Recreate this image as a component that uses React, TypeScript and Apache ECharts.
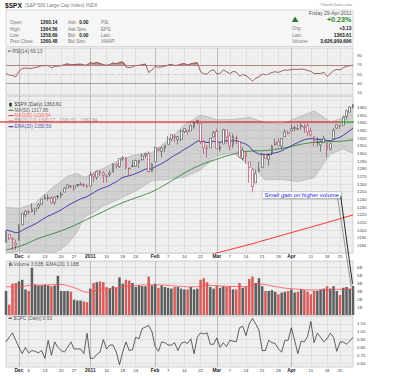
import React, { useEffect, useRef } from 'react';
import * as echarts from 'echarts';

const FONT = '"Liberation Sans", Arial, Helvetica, sans-serif';

const dates: string[] = [
  '2010-11-24','2010-11-26','2010-11-29','2010-11-30',
  '2010-12-01','2010-12-02','2010-12-03','2010-12-06','2010-12-07','2010-12-08','2010-12-09','2010-12-10',
  '2010-12-13','2010-12-14','2010-12-15','2010-12-16','2010-12-17','2010-12-20','2010-12-21','2010-12-22','2010-12-23',
  '2010-12-27','2010-12-28','2010-12-29','2010-12-30','2010-12-31',
  '2011-01-03','2011-01-04','2011-01-05','2011-01-06','2011-01-07','2011-01-10','2011-01-11','2011-01-12','2011-01-13','2011-01-14',
  '2011-01-18','2011-01-19','2011-01-20','2011-01-21','2011-01-24','2011-01-25','2011-01-26','2011-01-27','2011-01-28','2011-01-31',
  '2011-02-01','2011-02-02','2011-02-03','2011-02-04','2011-02-07','2011-02-08','2011-02-09','2011-02-10','2011-02-11',
  '2011-02-14','2011-02-15','2011-02-16','2011-02-17','2011-02-18','2011-02-22','2011-02-23','2011-02-24','2011-02-25','2011-02-28',
  '2011-03-01','2011-03-02','2011-03-03','2011-03-04','2011-03-07','2011-03-08','2011-03-09','2011-03-10','2011-03-11',
  '2011-03-14','2011-03-15','2011-03-16','2011-03-17','2011-03-18','2011-03-21','2011-03-22','2011-03-23','2011-03-24','2011-03-25',
  '2011-03-28','2011-03-29','2011-03-30','2011-03-31',
  '2011-04-01','2011-04-04','2011-04-05','2011-04-06','2011-04-07','2011-04-08','2011-04-11','2011-04-12','2011-04-13','2011-04-14','2011-04-15',
  '2011-04-18','2011-04-19','2011-04-20','2011-04-21','2011-04-25','2011-04-26','2011-04-27','2011-04-28','2011-04-29',
];

const tickIdx = [4, 7, 12, 17, 21, 26, 31, 36, 40, 46, 50, 55, 60, 65, 69, 74, 79, 84, 88, 94, 99, 103];
const tickText = ['Dec', '6', '13', '20', '27', '2011', '10', '18', '24', 'Feb', '7', '14', '22', 'Mar', '7', '14', '21', '28', 'Apr', '11', '18', '25'];
const monthIdx = [4, 26, 46, 65, 88];

const opens = [
  1183.7, 1194.2, 1189.1, 1182.9, 1186.6, 1206.8, 1219.9, 1223.9, 1227.3, 1225.0,
  1230.1, 1233.8, 1242.5, 1241.8, 1241.6, 1236.3, 1243.6, 1245.8, 1249.4, 1254.9,
  1257.5, 1254.7, 1259.1, 1258.8, 1259.4, 1256.8, 1257.6, 1272.9, 1268.8, 1276.3,
  1274.4, 1270.8, 1272.6, 1275.7, 1285.8, 1282.9, 1293.2, 1294.5, 1280.9, 1283.6,
  1283.3, 1288.2, 1291.9, 1297.5, 1299.6, 1276.5, 1289.1, 1305.9, 1302.8, 1307.0,
  1311.9, 1318.8, 1322.5, 1318.1, 1318.7, 1328.7, 1330.4, 1329.5, 1334.4, 1340.4,
  1338.9, 1315.4, 1307.1, 1307.3, 1321.6, 1328.6, 1305.5, 1312.4, 1330.7, 1322.7,
  1311.1, 1319.9, 1315.7, 1293.4, 1301.2, 1288.5, 1279.5, 1261.6, 1276.7, 1281.7,
  1298.3, 1292.2, 1300.6, 1311.8, 1315.5, 1309.4, 1321.9, 1327.4, 1329.5, 1333.6,
  1332.0, 1335.9, 1334.8, 1336.2, 1329.0, 1321.9, 1314.0, 1311.1, 1314.5, 1313.4,
  1305.9, 1319.1, 1333.2, 1337.1, 1336.8, 1348.4, 1353.9, 1360.14,
];
const highs = [
  1198.6, 1194.2, 1189.1, 1187.4, 1207.6, 1221.9, 1225.6, 1225.8, 1235.1, 1228.9,
  1234.7, 1240.4, 1246.7, 1246.6, 1244.3, 1243.8, 1245.8, 1250.2, 1255.8, 1259.4,
  1258.6, 1258.4, 1259.9, 1262.6, 1261.1, 1259.3, 1276.2, 1274.1, 1277.6, 1278.2,
  1276.8, 1271.5, 1277.6, 1286.9, 1286.7, 1293.2, 1296.1, 1294.6, 1281.0, 1291.2,
  1291.9, 1291.3, 1299.7, 1301.3, 1302.7, 1287.2, 1308.9, 1307.6, 1308.6, 1311.0,
  1322.9, 1324.9, 1324.5, 1322.8, 1330.8, 1332.9, 1330.4, 1337.6, 1341.5, 1344.1,
  1338.9, 1317.9, 1310.9, 1320.6, 1329.4, 1332.1, 1314.2, 1332.3, 1331.1, 1327.7,
  1325.7, 1323.2, 1315.7, 1308.4, 1301.2, 1288.5, 1280.9, 1278.9, 1288.9, 1300.6,
  1299.4, 1300.5, 1311.3, 1319.2, 1319.7, 1319.4, 1331.7, 1329.8, 1337.9, 1336.7,
  1338.2, 1339.4, 1338.8, 1339.5, 1333.2, 1321.9, 1321.4, 1316.8, 1322.9, 1313.5,
  1312.7, 1332.7, 1337.5, 1337.6, 1349.6, 1357.5, 1361.7, 1364.56,
];
const lows = [
  1183.7, 1186.9, 1173.6, 1174.1, 1186.6, 1206.8, 1216.8, 1220.7, 1223.3, 1219.5,
  1226.9, 1232.6, 1240.3, 1238.2, 1234.0, 1232.9, 1239.9, 1241.5, 1249.4, 1254.9,
  1254.0, 1251.5, 1256.2, 1258.8, 1256.3, 1254.2, 1257.6, 1262.7, 1265.4, 1270.4,
  1261.7, 1262.2, 1269.6, 1275.7, 1280.5, 1281.1, 1290.2, 1278.9, 1271.3, 1282.1,
  1282.5, 1281.1, 1291.0, 1294.4, 1275.1, 1276.0, 1289.1, 1302.6, 1294.8, 1301.7,
  1311.9, 1316.0, 1314.9, 1311.7, 1316.1, 1326.9, 1324.6, 1329.5, 1331.9, 1338.1,
  1312.3, 1299.6, 1294.3, 1307.3, 1320.9, 1306.1, 1302.6, 1312.4, 1312.6, 1303.9,
  1306.9, 1312.3, 1294.3, 1291.0, 1286.4, 1261.9, 1249.1, 1261.6, 1276.2, 1281.7,
  1292.7, 1284.1, 1297.7, 1310.4, 1310.2, 1305.3, 1321.9, 1325.0, 1328.9, 1329.1,
  1330.0, 1330.7, 1326.6, 1322.9, 1321.8, 1309.2, 1309.2, 1302.4, 1313.7, 1294.7,
  1303.9, 1319.1, 1332.0, 1331.7, 1336.7, 1344.2, 1353.6, 1358.69,
];
const closes = [
  1198.35, 1189.40, 1187.76, 1180.55, 1206.07, 1221.53, 1224.71, 1223.12, 1223.75, 1228.28,
  1233.00, 1240.40, 1240.46, 1241.59, 1235.23, 1242.87, 1243.91, 1247.08, 1254.60, 1258.84,
  1256.77, 1257.54, 1258.51, 1259.78, 1257.88, 1257.64, 1271.87, 1270.20, 1276.56, 1273.85,
  1271.50, 1269.75, 1274.48, 1285.96, 1283.76, 1293.24, 1295.02, 1281.92, 1280.26, 1283.35,
  1290.84, 1291.18, 1296.63, 1299.54, 1276.34, 1286.12, 1307.59, 1304.03, 1307.10, 1310.87,
  1319.05, 1324.57, 1320.88, 1321.87, 1329.15, 1332.32, 1328.01, 1336.32, 1340.43, 1343.01,
  1315.44, 1307.40, 1306.10, 1319.88, 1327.22, 1306.33, 1308.44, 1330.97, 1321.15, 1310.13,
  1321.82, 1320.02, 1295.11, 1304.28, 1296.39, 1281.87, 1256.88, 1273.72, 1279.21, 1298.38,
  1293.77, 1297.54, 1309.66, 1313.80, 1310.19, 1319.44, 1328.26, 1325.83, 1332.41, 1332.87,
  1332.63, 1335.54, 1333.51, 1328.17, 1324.46, 1314.16, 1314.41, 1314.52, 1319.68, 1305.14,
  1312.62, 1330.36, 1337.38, 1335.25, 1347.24, 1355.66, 1360.48, 1363.61,
];
const prevCloseStart = 1180.73;

const ema20 = [
  1200.0, 1199.0, 1197.9, 1196.3, 1197.2, 1199.5, 1201.9, 1203.9, 1205.8, 1207.9,
  1210.3, 1213.2, 1215.8, 1218.3, 1219.9, 1222.1, 1224.1, 1226.3, 1229.0, 1231.8,
  1234.2, 1236.4, 1238.5, 1240.6, 1242.2, 1243.7, 1246.4, 1248.6, 1251.3, 1253.4,
  1255.2, 1256.5, 1258.2, 1260.9, 1263.0, 1265.9, 1268.7, 1269.9, 1270.9, 1272.1,
  1273.9, 1275.5, 1277.5, 1279.6, 1279.3, 1280.0, 1282.6, 1284.6, 1286.8, 1289.1,
  1291.9, 1295.0, 1297.5, 1299.8, 1302.6, 1305.4, 1307.6, 1310.3, 1313.2, 1316.0,
  1316.0, 1315.2, 1314.3, 1314.8, 1316.0, 1315.1, 1314.5, 1316.0, 1316.5, 1315.9,
  1316.5, 1316.8, 1314.7, 1313.7, 1312.1, 1309.2, 1304.2, 1301.3, 1299.2, 1299.1,
  1298.6, 1298.5, 1299.6, 1300.9, 1301.8, 1303.5, 1305.8, 1307.7, 1310.1, 1312.3,
  1314.2, 1316.2, 1317.9, 1318.9, 1319.4, 1318.9, 1318.5, 1318.1, 1318.3, 1317.0,
  1316.6, 1317.9, 1319.8, 1321.2, 1323.7, 1326.7, 1329.9, 1333.1,
];

const ma50Idx = [0, 5, 10, 15, 20, 25, 30, 35, 40, 45, 49, 55, 60, 64, 70, 75, 80, 85, 87, 92, 97, 102, 107];
const ma50Val = [1174, 1180, 1189, 1196, 1204, 1214, 1224, 1234, 1242, 1250, 1259.0, 1274.3, 1284.9, 1291.0, 1298.9, 1303.0, 1303.8, 1306.6, 1308.2, 1312.7, 1315.1, 1315.6, 1317.86];

const ma200Idx = [55, 60, 65, 70, 75, 80, 85, 90, 95, 100, 104, 107];
const ma200Val = [1158, 1164, 1170, 1175.5, 1181, 1187, 1193, 1199, 1205, 1211, 1216, 1219.54];

const bbIdx = [0, 4, 9, 14, 17, 19, 22, 24, 25, 27, 30, 35, 40, 45, 50, 55, 60, 65, 70, 75, 80, 85, 90, 95, 100, 104, 107];
const bbUpper = [1229.3, 1228.0, 1235.1, 1254.4, 1263.7, 1270.4, 1274.0, 1269.0, 1269.7, 1275.3, 1280.4, 1291.6, 1298.4, 1301.0, 1317.6, 1337.0, 1350.4, 1344.1, 1344.4, 1347.0, 1340.3, 1338.3, 1346.9, 1355.7, 1341.2, 1346.6, 1362.8];
const bbLower = [1169.3, 1172.5, 1169.3, 1168.4, 1174.9, 1181.8, 1197.9, 1216.0, 1218.9, 1222.7, 1231.4, 1240.8, 1251.0, 1264.2, 1266.2, 1268.8, 1278.6, 1296.7, 1300.8, 1285.0, 1265.7, 1265.9, 1263.3, 1268.3, 1299.2, 1305.8, 1300.2];

const rsi = [
  51, 48, 47, 44, 56, 62, 63, 62, 62.5, 64,
  65.5, 68, 68, 68.5, 63.5, 66.5, 67, 68, 70.5, 72,
  70, 70.5, 71, 71.5, 69.5, 69.3, 74.5, 73, 75, 72.5,
  70.5, 69, 70.5, 74, 72, 75.5, 76, 65, 64, 65.5,
  68.5, 68.6, 70.5, 71.5, 53.5, 58.5, 66.5, 64.5, 65.5, 67,
  69.5, 71, 68.5, 69, 71.5, 72.5, 69.5, 72, 73.5, 74.5,
  55, 50.5, 50, 56.5, 59.5, 50, 51, 59, 55, 51,
  55.5, 54.5, 45.5, 49, 46.5, 41.5, 34.5, 41.5, 43.5, 50,
  48.5, 49.8, 53.5, 55, 53.5, 56.5, 59, 58, 60, 60.2,
  60, 61, 60, 57.5, 56, 51, 51.2, 51.3, 53.5, 45,
  50.5, 57.5, 60, 59, 63.5, 66.5, 68, 69.13,
];
const rsiOverbought = 70;

const volume = [
  3.0, 1.3, 3.9, 4.0, 4.2, 4.4, 3.2, 3.0, 5.9, 3.8,
  3.7, 3.7, 3.8, 3.7, 3.6, 3.7, 4.9, 3.0, 3.0, 3.0,
  2.9, 1.9, 1.8, 1.8, 1.7, 1.6, 3.3, 4.0, 4.1, 4.2,
  4.1, 3.5, 3.3, 3.6, 3.4, 4.7, 3.9, 4.4, 4.3, 4.0,
  3.5, 3.7, 3.6, 3.6, 4.8, 3.7, 3.9, 3.4, 3.7, 3.5,
  3.4, 3.3, 3.5, 3.5, 3.3, 3.2, 3.2, 3.5, 3.2, 3.3,
  4.4, 4.6, 4.1, 3.5, 3.3, 3.7, 3.4, 3.6, 3.5, 3.6,
  3.2, 3.2, 4.0, 3.4, 3.5, 4.5, 4.8, 4.0, 4.6, 3.6,
  3.0, 3.0, 3.1, 2.9, 2.6, 2.8, 2.9, 3.0, 3.2, 2.8,
  2.9, 3.2, 3.1, 2.9, 2.6, 3.0, 3.0, 3.2, 3.3, 3.6,
  3.3, 3.6, 3.0, 2.5, 3.4, 3.5, 3.3, 3.63,
];
const volEmaIdx = [0, 4, 8, 12, 16, 20, 23, 25, 28, 32, 36, 40, 44, 48, 52, 56, 60, 62, 66, 70, 74, 78, 82, 86, 90, 94, 98, 102, 107];
const volEmaVal = [3.54, 3.51, 3.73, 3.74, 3.83, 3.55, 3.10, 2.84, 3.09, 3.30, 3.51, 3.67, 3.77, 3.74, 3.64, 3.52, 3.56, 3.70, 3.63, 3.57, 3.56, 3.86, 3.63, 3.36, 3.23, 3.13, 3.13, 3.21, 3.18];

const cpc = [
  0.87, 0.93, 0.985, 0.89, 0.80, 0.72, 0.80, 0.73, 0.76, 0.75,
  0.73, 0.76, 0.66, 0.89, 0.70, 0.87, 0.80, 0.76, 0.74, 0.80,
  0.87, 0.78, 0.78, 0.78, 0.72, 0.98, 0.66, 0.66, 0.71, 0.74,
  0.90, 0.78, 0.83, 0.83, 0.74, 0.58, 0.74, 0.87, 0.76, 0.77,
  0.93, 0.91, 1.04, 1.06, 1.08, 1.00, 0.81, 0.75, 0.87, 0.86,
  0.83, 0.83, 0.86, 0.76, 0.85, 0.87, 0.85, 0.91, 0.72, 0.93,
  0.985, 0.97, 0.985, 0.84, 0.84, 0.92, 0.80, 0.86, 0.81, 0.89,
  0.88, 0.87, 1.05, 1.07, 0.95, 1.10, 1.17, 1.10, 1.02, 0.76,
  0.76, 0.89, 0.86, 0.85, 0.78, 0.74, 0.89, 0.89, 1.05, 0.89,
  0.72, 0.88, 0.87, 0.94, 1.13, 0.86, 0.98, 0.93, 0.87, 0.91,
  0.98, 0.93, 0.75, 0.87, 0.87, 0.84, 0.88, 0.93,
];

const resistanceLevel = 1341;
const resistanceSplitIdx = 103;
const annoIdx = 79.2;
const annoPrice = 1250;

const GRID_BG = '#efefef';
const GRID_LINE = '#d5d5d5';
const MONTH_LINE = '#a9a9a9';
const CANDLE_RED = '#a8193a';
const CANDLE_BLACK = '#262626';

const sparse = (idx: number[], vals: number[]) => {
  const a: (number | null)[] = dates.map(() => null);
  idx.forEach((i, k) => { a[i] = vals[k]; });
  return a;
};

function buildOption(): any {
  const tickMap = new Map<number, string>();
  tickIdx.forEach((i, k) => tickMap.set(i, tickText[k]));
  const monthSet = new Set(monthIdx);

  const gridDefs = [
    { top: 48, height: 47 },
    { top: 96, height: 157 },
    { top: 261, height: 54 },
    { top: 316, height: 51 },
  ];
  const grid = gridDefs.map((g) => ({
    left: 6, width: 347, top: g.top, height: g.height,
    show: true, backgroundColor: GRID_BG, borderColor: '#b8b8b8', borderWidth: 0.6,
    containLabel: false, outerBoundsMode: 'none',
  }));

  const xAxis: any[] = [];
  for (let g = 0; g < 4; g++) {
    const withLabels = g === 1 || g === 3;
    xAxis.push({
      type: 'category', gridIndex: g, data: dates, boundaryGap: false, position: 'bottom',
      axisLine: { show: false }, axisTick: { show: false },
      axisLabel: withLabels ? {
        show: true, interval: 0, margin: 1.2, fontSize: 4.3, color: '#333', fontFamily: FONT,
        formatter: (_v: string, i: number) => {
          const t = tickMap.get(i);
          if (!t) return '';
          return monthSet.has(i) ? `{m|${t}}` : t;
        },
        rich: { m: { fontWeight: 'bold', fontSize: 4.9, color: '#222', fontFamily: FONT } },
      } : { show: false },
      splitLine: { show: true, interval: (i: number) => tickMap.has(i) && !monthSet.has(i), lineStyle: { color: GRID_LINE, width: 0.6 } },
    });
  }
  for (let g = 0; g < 4; g++) {
    xAxis.push({
      type: 'category', gridIndex: g, data: dates, boundaryGap: false, position: 'top',
      axisLine: { show: false }, axisTick: { show: false }, axisLabel: { show: false },
      splitLine: { show: true, interval: (i: number) => monthSet.has(i), lineStyle: { color: MONTH_LINE, width: 0.7 } },
    });
  }

  const yLabel = (formatter: any) => ({ show: true, fontSize: 4.3, color: '#444', margin: 4, fontFamily: FONT, formatter });
  const yAxis = [
    {
      type: 'value', gridIndex: 0, position: 'right', min: 5, max: 106, interval: 5,
      axisLine: { show: false }, axisTick: { show: false }, splitLine: { show: false },
      axisLabel: yLabel((v: number) => (v >= 10 && v <= 90 && (v - 10) % 20 === 0 ? String(v) : '')),
    },
    {
      type: 'value', gridIndex: 1, position: 'right', min: 1170, max: 1375, interval: 10,
      axisLine: { show: false }, axisTick: { show: false },
      splitLine: { show: true, lineStyle: { color: GRID_LINE, width: 0.6 } },
      axisLabel: yLabel((v: number) => (v >= 1180 && v <= 1360 && v % 10 === 0 ? String(v) : '')),
    },
    {
      type: 'value', gridIndex: 2, position: 'right', min: 0, max: 6.75, interval: 1,
      axisLine: { show: false }, axisTick: { show: false },
      splitLine: { show: true, lineStyle: { color: GRID_LINE, width: 0.6 } },
      axisLabel: yLabel((v: number) => (v >= 1 && v <= 6 && Number.isInteger(v) ? `${v}B` : '')),
    },
    {
      type: 'value', gridIndex: 3, position: 'right', min: 0.55, max: 1.2, interval: 0.05,
      axisLine: { show: false }, axisTick: { show: false },
      splitLine: { show: true, lineStyle: { color: ['rgba(0,0,0,0)', GRID_LINE], width: 0.6 } },
      axisLabel: yLabel((v: number) => {
        const c = Math.round(v * 100);
        return c % 10 === 0 && c >= 60 && c <= 110 ? (c / 100).toFixed(2) : '';
      }),
    },
  ];

  const candleData = dates.map((_, i) => {
    const prev = i === 0 ? prevCloseStart : closes[i - 1];
    const col = closes[i] >= prev ? CANDLE_BLACK : CANDLE_RED;
    return {
      value: [opens[i], closes[i], lows[i], highs[i]],
      itemStyle: { color: '#ffffff', color0: col, borderColor: col, borderColor0: col, borderWidth: 0.5 },
    };
  });

  const series: any[] = [
    {
      type: 'custom', name: 'BB', xAxisIndex: 1, yAxisIndex: 1, z: 1, clip: true, silent: true,
      data: [[0, bbLower[0]]],
      renderItem: (_p: any, api: any) => {
        const up = bbIdx.map((i, k) => api.coord([i, bbUpper[k]]));
        const lo = bbIdx.map((i, k) => api.coord([i, bbLower[k]]));
        return {
          type: 'group',
          children: [
            { type: 'polygon', shape: { points: up.concat(lo.slice().reverse()) }, style: { fill: 'rgba(150,150,150,0.33)' } },
            { type: 'polyline', shape: { points: up }, style: { stroke: '#ababab', lineWidth: 0.6, fill: 'none' } },
            { type: 'polyline', shape: { points: lo }, style: { stroke: '#ababab', lineWidth: 0.6, fill: 'none' } },
          ],
        };
      },
    },
    {
      type: 'line', name: 'MA200', xAxisIndex: 1, yAxisIndex: 1, z: 2, data: sparse(ma200Idx, ma200Val),
      connectNulls: true, smooth: true, showSymbol: false, silent: true, lineStyle: { color: '#ff2a2a', width: 1 },
    },
    {
      type: 'line', name: 'MA50', xAxisIndex: 1, yAxisIndex: 1, z: 2, data: sparse(ma50Idx, ma50Val),
      connectNulls: true, smooth: true, showSymbol: false, silent: true, lineStyle: { color: '#1e7a1e', width: 0.8 },
    },
    {
      type: 'line', name: 'EMA20', xAxisIndex: 1, yAxisIndex: 1, z: 2, data: ema20,
      showSymbol: false, silent: true, lineStyle: { color: '#1c1c9e', width: 0.8 },
    },
    {
      type: 'candlestick', name: '$SPX', xAxisIndex: 1, yAxisIndex: 1, z: 3, data: candleData,
      barWidth: 2.3, silent: true, clip: true,
    },
    {
      type: 'custom', name: 'RSI fill', xAxisIndex: 0, yAxisIndex: 0, z: 2, clip: true, silent: true,
      data: [[0, rsi[0]]],
      renderItem: (_p: any, api: any) => {
        const children: any[] = [];
        const th = rsiOverbought;
        for (let i = 0; i < rsi.length - 1; i++) {
          const a = rsi[i];
          const b = rsi[i + 1];
          if (a <= th && b <= th) continue;
          let x0 = i;
          let x1 = i + 1;
          if (a < th) x0 = i + (th - a) / (b - a);
          if (b < th) x1 = i + (th - a) / (b - a);
          const pts: number[][] = [];
          pts.push(api.coord([x0, th]));
          if (a >= th) pts.push(api.coord([i, a]));
          if (b >= th) pts.push(api.coord([i + 1, b]));
          pts.push(api.coord([x1, th]));
          children.push({ type: 'polygon', shape: { points: pts }, style: { fill: '#b08c80', stroke: '#b08c80', lineWidth: 0.3 } });
        }
        return { type: 'group', children };
      },
    },
    {
      type: 'line', name: 'RSI', xAxisIndex: 0, yAxisIndex: 0, z: 3, data: rsi,
      showSymbol: false, silent: true, lineStyle: { color: '#8e3b3b', width: 0.8 },
      markLine: {
        silent: true, symbol: 'none', label: { show: false }, animation: false,
        data: [
          { yAxis: 70, lineStyle: { color: '#a86a66', width: 0.8, type: 'solid' } },
          { yAxis: 50, lineStyle: { color: '#b0b0b0', width: 0.6, type: [3, 1.5, 1, 1.5] } },
          { yAxis: 30, lineStyle: { color: '#8c8c8c', width: 0.8, type: 'solid' } },
        ],
      },
    },
    {
      type: 'bar', name: 'Volume', xAxisIndex: 2, yAxisIndex: 2, z: 2, data: volume, barWidth: 2.5, silent: true,
      itemStyle: {
        color: (p: any) => {
          const i = p.dataIndex;
          const prev = i === 0 ? prevCloseStart : closes[i - 1];
          return closes[i] >= prev ? '#5e5e5e' : '#d75d5d';
        },
      },
    },
    {
      type: 'line', name: 'Vol EMA', xAxisIndex: 2, yAxisIndex: 2, z: 3, data: sparse(volEmaIdx, volEmaVal),
      connectNulls: true, smooth: true, showSymbol: false, silent: true, lineStyle: { color: '#ff4d4d', width: 0.8 },
    },
    {
      type: 'line', name: '$CPC', xAxisIndex: 3, yAxisIndex: 3, z: 3, data: cpc,
      showSymbol: false, silent: true, lineStyle: { color: '#222222', width: 0.7 },
    },
  ];

  return {
    animation: false,
    backgroundColor: '#ffffff',
    textStyle: { fontFamily: FONT },
    grid, xAxis, yAxis, series,
  };
}

function buildGraphics(chart: any): any[] {
  const els: any[] = [];
  const txt = (text: string, x: number, y: number, size: number, fill: string, o: any = {}) => els.push({
    type: 'text', z: 100, silent: true,
    style: {
      text, x, y, fill, fontSize: size, fontFamily: FONT, fontWeight: o.bold ? 'bold' : 'normal',
      align: o.align || 'left', verticalAlign: 'middle',
    },
  });
  const ln = (x1: number, y1: number, x2: number, y2: number, stroke: string, w: number) => els.push({
    type: 'line', z: 100, silent: true, shape: { x1, y1, x2, y2 }, style: { stroke, lineWidth: w },
  });

  // header
  txt('$SPX', 5, 5.4, 6.6, '#111', { bold: true });
  txt('(S&P 500 Large Cap Index) INDX', 24.5, 5.6, 4.9, '#777');
  txt('\u00A9StockCharts.com', 352, 4.6, 3.9, '#888', { align: 'right' });
  els.push({ type: 'rect', z: 50, silent: true, shape: { x: 6, y: 10, width: 347, height: 36.5 }, style: { fill: '#f6f6f6', stroke: '#c4c4c4', lineWidth: 0.6 } });
  const rowY = [22.7, 29.0, 35.3, 41.6];
  const c1 = ['Open:', 'High:', 'Low:', 'Prev Close:'];
  const v1 = ['1360.14', '1364.56', '1358.69', '1360.48'];
  const c2 = ['Ask:', 'Ask Size:', 'Bid:', 'Bid Size:'];
  const v2 = ['0.00', '', '0.00', ''];
  const c3 = ['P/E:', 'EPS:', 'Last:', 'VWAP:'];
  rowY.forEach((y, k) => {
    txt(c1[k], 10, y, 4.6, '#7a7a7a');
    txt(v1[k], 57.5, y, 4.8, '#222', { bold: true, align: 'right' });
    txt(c2[k], 68, y, 4.6, '#7a7a7a');
    if (v2[k]) txt(v2[k], 88.5, y, 4.8, '#222', { bold: true, align: 'right' });
    txt(c3[k], 101, y, 4.6, '#7a7a7a');
  });
  txt('Friday 29-Apr-2011', 351.5, 13.3, 5, '#555', { align: 'right' });
  els.push({ type: 'polygon', z: 100, silent: true, shape: { points: [[291.8, 21.9], [298.4, 21.9], [295.1, 16.4]] }, style: { fill: '#2a7a2a' } });
  txt('+0.23%', 351.5, 19.8, 7.2, '#2b8a2b', { bold: true, align: 'right' });
  txt('Chg:', 292, 28.9, 4.6, '#7a7a7a');
  txt('+3.13', 351.5, 28.9, 4.9, '#222', { bold: true, align: 'right' });
  txt('Last:', 292, 35.1, 4.6, '#7a7a7a');
  txt('1363.61', 351.5, 35.1, 4.9, '#222', { bold: true, align: 'right' });
  txt('Volume:', 292, 41.2, 4.6, '#7a7a7a');
  txt('3,626,909,696', 351.5, 41.2, 4.9, '#222', { bold: true, align: 'right' });

  // RSI legend
  els.push({ type: 'polyline', z: 100, silent: true, shape: { points: [[8, 52.6], [9, 50.2], [10, 52], [11.4, 50]] }, style: { stroke: '#555', lineWidth: 0.6, fill: 'none' } });
  txt('RSI(14) 69.13', 12.5, 51.4, 4.8, '#555');

  // main legend
  els.push({ type: 'rect', z: 100, silent: true, shape: { x: 9.2, y: 103, width: 2.6, height: 3.2 }, style: { fill: '#333' } });
  ln(10.5, 101.9, 10.5, 107.2, '#333', 0.5);
  txt('$SPX (Daily) 1363.61', 14.5, 104.6, 4.9, '#444');
  ln(8.5, 110.3, 13.5, 110.3, '#1e7a1e', 1);
  txt('MA(50) 1317.86', 14.5, 110.3, 4.7, '#666');
  ln(8.5, 115.6, 13.5, 115.6, '#ff2a2a', 1);
  txt('MA(200) 1219.54', 14.5, 115.6, 4.7, '#ff6060');
  ln(8.5, 120.9, 13.5, 120.9, '#9a9a9a', 1);
  txt('BB(20,2.0) 1300.17 - 1331.51 - 1362.84', 14.5, 120.9, 4.7, '#999');
  ln(8.5, 126.7, 13.5, 126.7, '#1c1c9e', 1);
  txt('EMA(20) 1330.56', 14.5, 126.7, 4.7, '#5858a8');

  // volume legend
  els.push({ type: 'rect', z: 100, silent: true, shape: { x: 9, y: 263, width: 0.9, height: 3 }, style: { fill: '#555' } });
  els.push({ type: 'rect', z: 100, silent: true, shape: { x: 10.3, y: 262, width: 0.9, height: 4 }, style: { fill: '#555' } });
  els.push({ type: 'rect', z: 100, silent: true, shape: { x: 11.6, y: 263.6, width: 0.9, height: 2.4 }, style: { fill: '#555' } });
  txt('Volume 3.63B, EMA(20) 3.18B', 13.5, 264.3, 4.8, '#555');

  // CPC legend
  ln(8.5, 318.2, 12, 318.2, '#222', 1);
  txt('$CPC (Daily) 0.93', 13.5, 318.2, 4.8, '#555');

  // resistance line
  const ry = chart.convertToPixel({ gridIndex: 1 }, [0, resistanceLevel])[1];
  const gx = chart.convertToPixel({ gridIndex: 1 }, [resistanceSplitIdx, resistanceLevel])[0];
  const endX = chart.convertToPixel({ gridIndex: 1 }, [dates.length - 1, resistanceLevel])[0];
  ln(0, ry, gx, ry, '#e00000', 1.1);
  ln(gx, ry, endX + 1, ry, '#009a00', 1.1);

  // annotation
  const [ax, ay] = chart.convertToPixel({ gridIndex: 1 }, [annoIdx, annoPrice]);
  const [ex, ey] = chart.convertToPixel({ gridIndex: 2 }, [dates.length - 1, volume[volume.length - 1]]);
  els.push({ type: 'rect', z: 99, silent: true, shape: { x: ax + 1, y: ay + 1, width: 79, height: 6.8 }, style: { fill: '#bdbdbd' } });
  els.push({ type: 'rect', z: 100, silent: true, shape: { x: ax, y: ay, width: 79, height: 6.8 }, style: { fill: '#ffffff', stroke: '#9a9a9a', lineWidth: 0.5 } });
  txt('Small gain on higher volume', ax + 39.5, ay + 3.5, 5.9, '#1f1fe6', { align: 'center' });
  ln(ax + 75.5, ay + 6.3, ex - 1.8, ey + 0.5, '#8a8a8a', 0.9);
  ln(ax + 78.5, ay + 4.5, ex - 0.5, ey - 2, '#111', 0.9);

  return els;
}

export default function App() {
  const ref = useRef<HTMLDivElement>(null);
  useEffect(() => {
    const el = ref.current;
    if (!el) return;
    const chart = echarts.init(el, null, { renderer: 'svg' });
    chart.setOption(buildOption());
    chart.setOption({ graphic: buildGraphics(chart) });
    return () => chart.dispose();
  }, []);
  return (
    <div
      ref={ref}
      style={{ position: 'fixed', left: 0, top: 0, width: 400, height: 376, background: '#ffffff' }}
    />
  );
}
